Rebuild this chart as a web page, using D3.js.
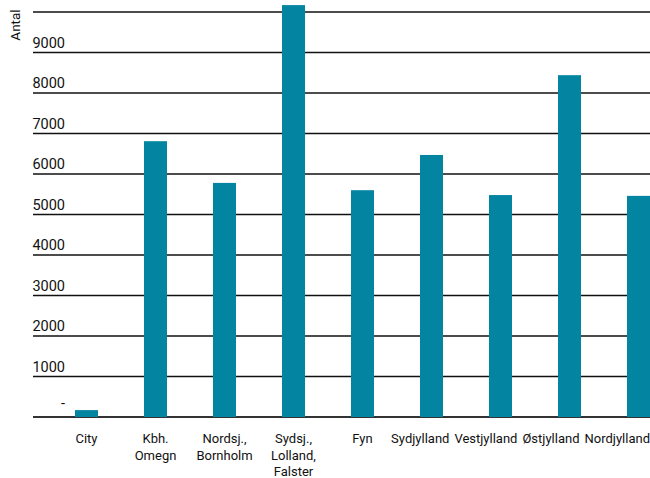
<!DOCTYPE html>
<html lang="da">
<head>
<meta charset="UTF-8">
<script src="https://cdn.jsdelivr.net/npm/d3@7"></script>
<style>
    body { margin:0; background:#fff; }
    svg text { font-family:Roboto, "Open Sans", sans-serif; fill:#111; }
</style>
</head>
<body>
<script>
    // regioner og antal
    const regions = [
        ["City"],
        ["Kbh.", "Omegn"],
        ["Nordsj.,", "Bornholm"],
        ["Sydsj.,", "Lolland,", "Falster"],
        ["Fyn"],
        ["Sydjylland"],
        ["Vestjylland"],
        ["Østjylland"],
        ["Nordjylland"]
    ];
    const antal = [170, 6810, 5780, 10170, 5600, 6470, 5480, 8440, 5460];
    const ticks = [0, 1000, 2000, 3000, 4000, 5000, 6000, 7000, 8000, 9000, 10000];
    const tickLabels = ["-", "1000", "2000", "3000", "4000", "5000", "6000", "7000", "8000", "9000", ""];

    const width = 650, height = 478;
    const svg = d3.select("body").append("svg")
        .attr("width", width)
        .attr("height", height);

    const y = d3.scaleLinear().domain([0, 10000]).range([417, 12]);
    const x = d3.scaleBand()
        .domain(d3.range(regions.length))
        .range([52, 673])
        .paddingInner(46 / 69)
        .paddingOuter(23 / 69);

    // gitterlinjer
    svg.selectAll("line.grid")
        .data(ticks)
        .enter()
        .append("line")
        .attr("x1", 33).attr("x2", 650)
        .attr("y1", d => y(d)).attr("y2", d => y(d))
        .attr("stroke", d => d == 0 ? "#333" : "#111")
        .attr("stroke-width", d => d == 0 ? 2.2 : 1.3);

    svg.selectAll("text.tick")
        .data(ticks)
        .enter()
        .append("text")
        .attr("x", 65)
        .attr("y", (d, i) => y(d) - (d == 0 ? 9 : 5))
        .attr("text-anchor", "end")
        .style("font-size", "14.5px")
        .text((d, i) => tickLabels[i]);

    svg.append("text")
        .attr("transform", "translate(20,25) rotate(-90)")
        .attr("text-anchor", "middle")
        .style("font-size", "13.5px")
        .text("Antal");

    // søjler
    svg.selectAll("rect")
        .data(antal)
        .enter()
        .append("rect")
        .attr("x", (d, i) => x(i))
        .attr("width", x.bandwidth())
        .attr("y", d => y(d))
        .attr("height", d => y(0) - y(d))
        .attr("fill", "#0384a0");

    const lab = svg.selectAll("text.cat")
        .data(regions)
        .enter()
        .append("text")
        .attr("text-anchor", "middle")
        .style("font-size", "13px");
    lab.selectAll("tspan")
        .data((d, i) => d.map(s => ({ s: s, i: i })))
        .enter()
        .append("tspan")
        .attr("x", d => x(d.i) + x.bandwidth() / 2)
        .attr("y", (d, j) => 443 + j * 16.5)
        .text(d => d.s);

    // skub labels mod venstre saa de ikke overlapper
    const nodes = lab.nodes();
    let limit = width;
    for (let i = nodes.length - 1; i >= 0; i--) {
        const b = nodes[i].getBBox();
        let shift = 0;
        if (b.x + b.width > limit) shift = limit - b.x - b.width;
        d3.select(nodes[i]).attr("transform", "translate(" + shift + ",0)");
        limit = b.x + shift - 5;
    }
</script>
</body>
</html>
